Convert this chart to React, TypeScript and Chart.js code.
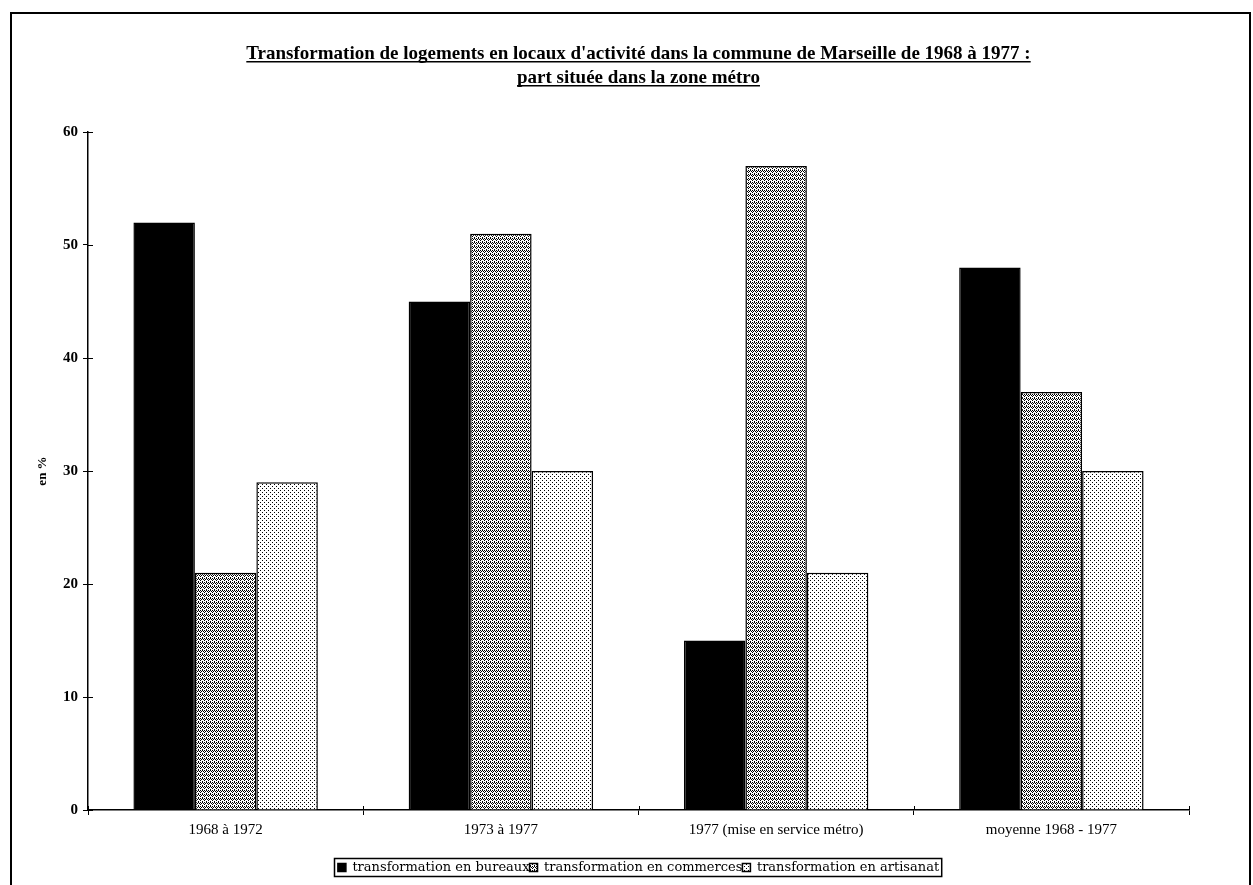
import React, { useEffect, useRef } from "react";
import { Chart, registerables } from "chart.js";

Chart.register(...registerables);

const titleLines = [
  "Transformation de logements en locaux d'activité dans la commune de Marseille de 1968 à 1977 :",
  "part située dans la zone métro",
];
const categories = ["1968 à 1972", "1973 à 1977", "1977 (mise en service métro)", "moyenne 1968 - 1977"];
const seriesLabels = ["transformation en bureaux", "transformation en commerces", "transformation en artisanat"];
const bureaux = [52, 45, 15, 48];
const commerces = [21, 51, 57, 37];
const artisanat = [29, 30, 21, 30];
const yTicks = [0, 10, 20, 30, 40, 50, 60];
const yTitle = "en %";

function makePattern(ctx: CanvasRenderingContext2D, w: number, h: number, dots: number[][]) {
  const c = document.createElement("canvas");
  c.width = w;
  c.height = h;
  const g = c.getContext("2d")!;
  g.fillStyle = "#ffffff";
  g.fillRect(0, 0, w, h);
  g.fillStyle = "#000000";
  dots.forEach(([x, y]) => g.fillRect(x, y, 1, 1));
  return ctx.createPattern(c, "repeat")!;
}

const decorPlugin = {
  id: "decor",
  afterDraw(chart: any) {
    const { ctx, chartArea, scales } = chart;
    ctx.save();
    ctx.strokeStyle = "#000";
    ctx.lineWidth = 1;
    const y = scales.y;
    y.ticks.forEach((_t: any, i: number) => {
      const py = Math.round(y.getPixelForTick(i)) + 0.5;
      ctx.beginPath();
      ctx.moveTo(chartArea.left, py);
      ctx.lineTo(chartArea.left + 5, py);
      ctx.stroke();
    });
    const x = scales.x;
    for (let i = 0; i <= categories.length; i++) {
      const px = Math.round(x.getPixelForDecimal(i / categories.length)) + 0.5;
      ctx.beginPath();
      ctx.moveTo(px, chartArea.bottom);
      ctx.lineTo(px, chartArea.bottom - 4);
      ctx.stroke();
    }
    const lg = chart.legend;
    if (lg && lg.legendHitBoxes && lg.legendHitBoxes.length) {
      const hb = lg.legendHitBoxes;
      const l = Math.min(...hb.map((b: any) => b.left));
      const r = Math.max(...hb.map((b: any) => b.left + b.width));
      const t = Math.min(...hb.map((b: any) => b.top));
      const bt = Math.max(...hb.map((b: any) => b.top + b.height));
      ctx.lineWidth = 1.5;
      ctx.strokeRect(Math.round(l) - 3.5, Math.round(t) - 2.5, r - l + 6, bt - t + 5);
    }
    ctx.fillStyle = "#000";
    ctx.font = "bold 19px 'Liberation Serif'";
    ctx.textAlign = "left";
    ctx.textBaseline = "alphabetic";
    const cx = (chartArea.left + chartArea.right) / 2;
    const baselines = [45, 69];
    titleLines.forEach((line, i) => {
      const w = ctx.measureText(line).width;
      const x0 = cx - w / 2;
      ctx.fillText(line, x0, baselines[i]);
      ctx.fillRect(x0, baselines[i] + 2, w, 1.5);
    });
    ctx.restore();
  },
};

export default function App() {
  const ref = useRef<HTMLCanvasElement>(null);
  useEffect(() => {
    const canvas = ref.current!;
    const ctx = canvas.getContext("2d")!;
    const dense = makePattern(ctx, 4, 4, [
      [0, 0], [2, 0], [1, 1], [3, 1], [0, 2], [2, 3],
    ]);
    const sparse = makePattern(ctx, 4, 4, [
      [0, 0], [2, 2],
    ]);
    const chart = new Chart(canvas, {
      type: "bar",
      data: {
        labels: categories,
        datasets: [
          { label: seriesLabels[0], data: bureaux, backgroundColor: "#000000", borderColor: "#000", borderWidth: 1.5 },
          { label: seriesLabels[1], data: commerces, backgroundColor: dense, borderColor: "#000", borderWidth: 1.5 },
          { label: seriesLabels[2], data: artisanat, backgroundColor: sparse, borderColor: "#000", borderWidth: 1.5 },
        ],
      },
      plugins: [decorPlugin],
      options: {
        animation: false,
        responsive: false,
        devicePixelRatio: 1,
        layout: { padding: { top: 118, right: 60, bottom: 1, left: 0 } },
        datasets: { bar: { categoryPercentage: 0.67, barPercentage: 1.0 } },
        plugins: {
          title: { display: false },
          tooltip: { enabled: false },
          legend: {
            position: "bottom",
            fullSize: false,
            labels: {
              color: "#000",
              font: { family: "'DejaVu Serif'", size: 13 },
              boxWidth: 8,
              boxHeight: 8,
              padding: 0,
            },
          },
        },
        scales: {
          x: {
            offset: true,
            afterFit: (s: any) => { s.height = 51; },
            grid: { display: true, drawOnChartArea: false, offset: true, tickLength: 5, color: "#000" },
            border: { display: true, color: "#000", width: 1.5 },
            ticks: { color: "#000", font: { family: "'Liberation Serif'", size: 15 }, padding: 6, maxRotation: 0 },
          },
          y: {
            min: 0,
            max: 60,
            afterFit: (s: any) => { s.width = 76; },
            afterBuildTicks: (s: any) => { s.ticks = yTicks.map((v) => ({ value: v })); },
            grid: { display: true, drawOnChartArea: false, tickLength: 5, color: "#000" },
            border: { display: true, color: "#000", width: 1.5 },
            ticks: { color: "#000", font: { family: "'Liberation Serif'", size: 15, weight: "bold" }, padding: 5 },
            title: {
              display: true,
              text: yTitle,
              color: "#000",
              font: { family: "'Liberation Serif'", size: 13, weight: "bold" },
              padding: { top: 23, bottom: 0 },
            },
          },
        },
      },
    });
    return () => chart.destroy();
  }, []);
  return (
    <div
      style={{
        position: "fixed",
        left: 10,
        top: 12,
        width: 1237,
        height: 885,
        border: "2px solid #000",
        borderBottom: "none",
        background: "#fff",
      }}
    >
      <canvas ref={ref} width={1237} height={871} style={{ display: "block", width: 1237, height: 871 }} />
    </div>
  );
}
